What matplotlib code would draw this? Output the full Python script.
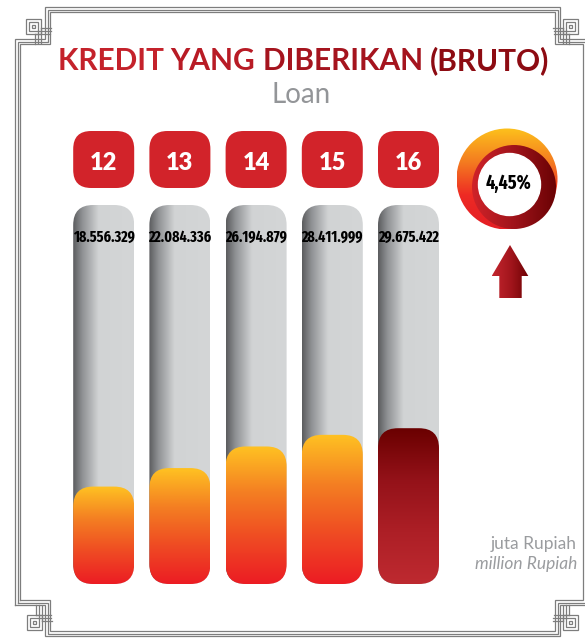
import numpy as np
import matplotlib
matplotlib.use("Agg")
import matplotlib.pyplot as plt
from matplotlib.patches import FancyBboxPatch, Circle, Polygon, Rectangle
from matplotlib.colors import LinearSegmentedColormap
from matplotlib.font_manager import FontProperties, fontManager
from matplotlib.offsetbox import TextArea, HPacker, AnnotationBbox

# data (juta Rupiah)
years = ["12", "13", "14", "15", "16"]
loans = [18556329, 22084336, 26194879, 28411999, 29675422]
value_labels = ["18.556.329", "22.084.336", "26.194.879", "28.411.999", "29.675.422"]

title_words = ["KREDIT ", "YANG ", "DIBERIKAN ", "(BRUTO)"]
title_colors = ["#c4222b", "#b81b25", "#a5141e", "#8d0b12"]
subtitle = "Loan"
unit_id = "juta Rupiah"
unit_en = "million Rupiah"

growth = (loans[-1] / loans[-2] - 1) * 100
growth_label = ("%.2f%%" % growth).replace(".", ",")

W, H = 585, 638
fig = plt.figure(figsize=(W / 100, H / 100), dpi=100)


def weight_num(w):
    if isinstance(w, (int, float)):
        return w
    return {"bold": 700, "heavy": 800, "black": 900, "demibold": 600,
            "semibold": 600, "extra bold": 800}.get(str(w).lower(), 400)


# pick a narrow bold face for the figures, if one is installed
cands = [f for f in fontManager.ttflist
         if f.stretch in ("condensed", "extra-condensed", "ultra-condensed", "semi-condensed")
         and weight_num(f.weight) >= 600 and f.style == "normal"]
def rank(f):
    n = f.fname.lower().replace("-", "").replace(" ", "")
    score = 0
    if "extracondensed" in n:
        score -= 3
    elif "semicondensed" in n:
        score += 1
    if weight_num(f.weight) != 700:
        score += 1
    return score
cands.sort(key=rank)
if cands:
    cond = FontProperties(fname=cands[0].fname)
    val_size, pct_size = 11, 14
else:
    cond = FontProperties(family="Liberation Sans", weight="bold")
    val_size, pct_size = 8, 11
LATO = ["Lato", "DejaVu Sans"]


def grad(ax, patch, stops, horizontal=False, flip=False, zorder=2):
    """Fill patch with a gradient; stops go left->right or top->bottom."""
    ax.add_patch(patch)
    patch.set_facecolor("none")
    patch.set_edgecolor("none")
    cmap = LinearSegmentedColormap.from_list("g", stops)
    g = np.linspace(0, 1, 256)
    bb = patch.get_path().transformed(patch.get_patch_transform()).get_extents()
    if horizontal:
        arr = g[None, :]
        ext = [bb.x0, bb.x1, bb.y0, bb.y1]
    else:
        arr = g[:, None]
        ext = [bb.x0, bb.x1, bb.y1, bb.y0] if flip else [bb.x0, bb.x1, bb.y0, bb.y1]
    im = ax.imshow(arr, cmap=cmap, extent=ext, origin="upper", aspect="auto",
                   zorder=zorder, interpolation="bilinear")
    im.set_clip_path(patch)
    return im


# ---------- background layer in pixel units ----------
bg = fig.add_axes([0, 0, 1, 1])
bg.set_xlim(0, W)
bg.set_ylim(H, 0)
bg.axis("off")

# decorative frame
frame_col = "#7d7d7d"
L, R, T, B = 15, 588, 7, 636
sxl, sxr, syt, syb = 30, 28, 32, 31
for d in (0, 2.5, 5):
    xs = [L + d, L + d, L + sxl + d, L + sxl + d, R - sxr - d, R - sxr - d, R - d, R - d,
          R - sxr - d, R - sxr - d, L + sxl + d, L + sxl + d, L + d]
    ys = [B - syb - d, T + syt + d, T + syt + d, T + d, T + d, T + syt + d, T + syt + d,
          B - syb - d, B - syb - d, B - d, B - d, B - syb - d, B - syb - d]
    bg.plot(xs, ys, color=frame_col, lw=0.9, solid_joinstyle="miter")
for cx, cy, sx, sy in [(33.5, 26, 1, 1), (570.5, 26, -1, 1), (34, 622, 1, -1), (570, 622, -1, -1)]:
    for h in (1.5, 4.5, 7.5):
        bg.add_patch(Rectangle((cx - h, cy - h), 2 * h, 2 * h, fill=False,
                               ec=frame_col, lw=0.9))
    for k, h in enumerate((1.5, 4.5, 7.5)):
        # short links from the squares to the stepped lines
        bg.plot([cx + sx * h, cx + sx * (h + 10 + 2.5 * (2 - k))], [cy + sy * (7.5 - 3 * k)] * 2,
                color=frame_col, lw=0.9)
        bg.plot([cx + sx * (7.5 - 3 * k)] * 2, [cy + sy * h, cy + sy * (h + 10 + 2.5 * (2 - k))],
                color=frame_col, lw=0.9)

# title, one colour step per word
parts = [TextArea(w, textprops=dict(family=LATO, weight="bold", fontsize=21.5, color=c))
         for w, c in zip(title_words, title_colors)]
title_box = HPacker(children=parts, sep=0, pad=0, align="baseline")
bg.add_artist(AnnotationBbox(title_box, (303.5, 61), xycoords="data", frameon=False,
                             box_alignment=(0.5, 0.5), pad=0))
bg.text(301.5, 103, subtitle, ha="center", va="baseline", family=LATO,
        fontsize=20, color="#939598")

# growth ring
outer = Circle((507, 179), 50.5)
grad(bg, outer, ["#fdc11c", "#f47c20", "#ee2a24", "#e31e25"], flip=True, zorder=3)
dark = Circle((514, 187), 42)
grad(bg, dark, ["#d02329", "#a0141b", "#6a0204"], horizontal=True, zorder=4)
bg.add_patch(Circle((509.5, 184.5), 31, color="white", zorder=5))
bg.text(509, 183, growth_label, ha="center", va="center", fontproperties=cond,
        fontsize=pct_size, color="black", zorder=6)

# up arrow
arrow = Polygon([(510, 245), (528.3, 276), (521.7, 276), (521.7, 298.3), (499.3, 298.3),
                 (499.3, 276), (491.7, 276)], closed=True)
grad(bg, arrow, ["#c4262e", "#a3161d", "#6d0103"], horizontal=True, zorder=3)

# units
bg.text(577, 549, unit_id, ha="right", va="baseline", family=LATO,
        fontsize=12.5, color="#9a9c9f")
bg.text(577, 569.5, unit_en, ha="right", va="baseline", family=LATO,
        style="italic", fontsize=12.5, color="#9a9c9f")

# ---------- chart layer ----------
px_x = 76.2          # pixels per category
px_y = 5.25          # pixels per million-million rupiah
left_px, bottom_px, top_px = 65.6, 584, 130
ax = fig.add_axes([left_px / W, (H - bottom_px) / H, 5 * px_x / W, (bottom_px - top_px) / H])
ax.patch.set_alpha(0)
ax.axis("off")

asp = px_x / px_y
bw = 61 / px_x
tube_top = (bottom_px - 205) / px_y
badge_y = (bottom_px - 159.5) / px_y
badge_h = 57 / px_y
year_base = (bottom_px - 170) / px_y
label_y = (bottom_px - 237.5) / px_y

for i, (yr, v, lab) in enumerate(zip(years, loans, value_labels)):
    tube = FancyBboxPatch((i - bw / 2, 0), bw, tube_top,
                          boxstyle="round,pad=0,rounding_size=%f" % (20 / px_x),
                          mutation_aspect=asp)
    grad(ax, tube, [(0, "#5b5c5e"), (0.15, "#8e9093"), (0.42, "#d1d3d4"), (1, "#d4d6d7")],
         horizontal=True, zorder=2)
    fill = FancyBboxPatch((i - bw / 2, 0), bw, v / 1e6,
                          boxstyle="round,pad=0,rounding_size=%f" % (20 / px_x),
                          mutation_aspect=asp)
    if i == len(years) - 1:
        stops = ["#6a0000", "#941219", "#ad1f26", "#be2a30"]
    else:
        stops = ["#ffc222", "#f47f22", "#ef4b23", "#ec1c24"]
    grad(ax, fill, stops, zorder=3)
    badge = FancyBboxPatch((i - bw / 2, badge_y - badge_h / 2), bw, badge_h,
                           boxstyle="round,pad=0,rounding_size=%f" % (18 / px_x),
                           mutation_aspect=asp, fc="#d2232a", ec="none", zorder=3)
    ax.add_patch(badge)
    ax.text(i, year_base, yr, ha="center", va="baseline", family=LATO, weight="heavy",
            fontsize=17, color="white", zorder=4)
    ax.text(i, label_y, lab, ha="center", va="center", fontproperties=cond,
            fontsize=val_size, color="black", zorder=4)

ax.set_xlim(-0.5, len(years) - 0.5)
ax.set_ylim(0, (bottom_px - top_px) / px_y)

fig.savefig("out.png", dpi=100)
